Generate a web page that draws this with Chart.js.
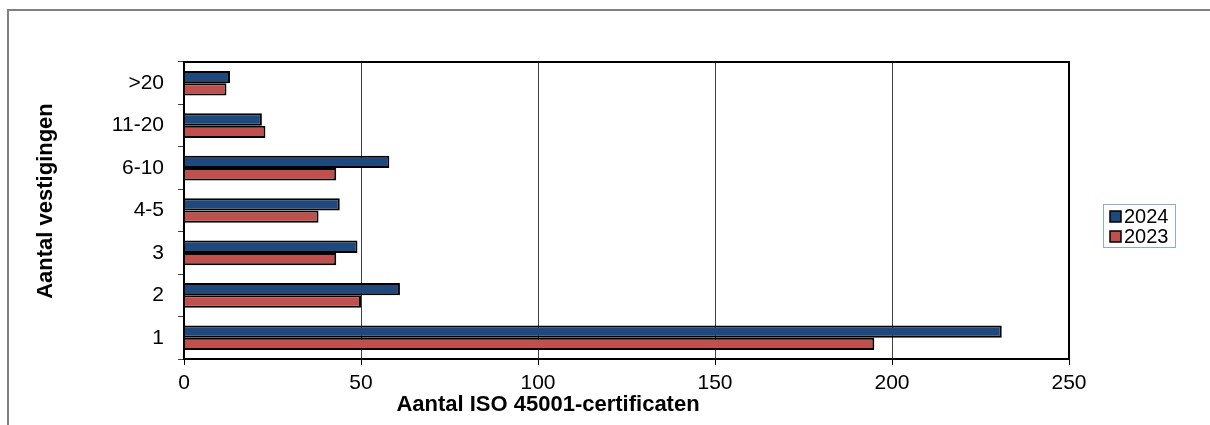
<!DOCTYPE html>
<html>
<head>
<meta charset="utf-8">
<script src="https://cdn.jsdelivr.net/npm/chart.js@4"></script>
<style>
  html, body { margin: 0; padding: 0; background: #fff; overflow: hidden; }
  #wrap { position: relative; width: 1210px; height: 425px; }
</style>
</head>
<body>
<div id="wrap"><canvas id="chart"></canvas></div>
<script>
// data
const categories = ['>20', '11-20', '6-10', '4-5', '3', '2', '1'];
const values2024 = [13, 22, 58, 44, 49, 61, 231];
const values2023 = [12, 23, 43, 38, 43, 50, 195];
const seriesLabels = ['2024', '2023'];
const xMin = 0;
const xMax = 250;
const xStep = 50;

const xTitle = 'Aantal ISO 45001-certificaten';
const yTitle = 'Aantal vestigingen';

const FONT = "'Liberation Sans', Arial, sans-serif";
const BLUE = '#1F497D';
const RED = '#C0504D';

// frame, plot border, axis titles and legend
const decorPlugin = {
  id: 'decor',
  beforeDraw(chart) {
    const {ctx} = chart;
    ctx.save();
    ctx.strokeStyle = '#808080';
    ctx.lineWidth = 2;
    ctx.beginPath();
    ctx.moveTo(8, 425);
    ctx.lineTo(8, 10);
    ctx.lineTo(1210, 10);
    ctx.stroke();
    ctx.restore();
  },
  afterDatasetsDraw(chart) {
    const {ctx, chartArea: {left, top, width, height}} = chart;
    ctx.save();
    ctx.strokeStyle = '#000';
    ctx.lineWidth = 2;
    ctx.strokeRect(left, top, width, height);
    ctx.restore();
  },
  afterDraw(chart) {
    const {ctx} = chart;
    ctx.save();
    ctx.fillStyle = '#000';
    ctx.font = 'bold 22px ' + FONT;
    ctx.textAlign = 'center';
    ctx.textBaseline = 'middle';
    ctx.fillText(xTitle, 548, 405);
    ctx.translate(46, 201);
    ctx.rotate(-Math.PI / 2);
    ctx.fillText(yTitle, 0, 0);
    ctx.restore();

    // legend
    ctx.save();
    ctx.strokeStyle = '#8EA9D8';
    ctx.lineWidth = 1;
    ctx.strokeRect(1103.5, 204.5, 72, 43);
    ctx.font = '20px ' + FONT;
    ctx.textAlign = 'left';
    ctx.textBaseline = 'middle';
    chart.data.datasets.forEach((ds, i) => {
      const y = 211 + i * 20;
      ctx.fillStyle = ds.backgroundColor;
      ctx.fillRect(1110, y, 11, 11);
      ctx.strokeStyle = '#000';
      ctx.lineWidth = 1.5;
      ctx.strokeRect(1110, y, 11, 11);
      ctx.fillStyle = '#000';
      ctx.fillText(ds.label, 1124, y + 6);
    });
    ctx.restore();
  }
};

const ctx = document.getElementById('chart');
new Chart(ctx, {
  type: 'bar',
  data: {
    labels: categories,
    datasets: [
      {
        label: seriesLabels[0],
        data: values2024,
        backgroundColor: BLUE,
        borderColor: '#000',
        borderWidth: 2
      },
      {
        label: seriesLabels[1],
        data: values2023,
        backgroundColor: RED,
        borderColor: '#000',
        borderWidth: 2
      }
    ]
  },
  options: {
    indexAxis: 'y',
    responsive: true,
    maintainAspectRatio: false,
    animation: false,
    categoryPercentage: 0.58,
    barPercentage: 1.0,
    layout: {padding: {left: 0, top: 62, right: 141, bottom: 0}},
    plugins: {
      legend: {display: false},
      tooltip: {enabled: false}
    },
    scales: {
      x: {
        min: xMin,
        max: xMax,
        afterFit(scale) { scale.height = 66; },
        ticks: {
          stepSize: xStep,
          color: '#000',
          padding: 6,
          font: {family: FONT, size: 21}
        },
        grid: {
          color: '#404040',
          lineWidth: 1,
          tickColor: '#000',
          tickLength: 6
        },
        border: {color: '#000', width: 2}
      },
      y: {
        afterFit(scale) { scale.width = 184; },
        ticks: {
          color: '#000',
          padding: 14,
          font: {family: FONT, size: 21}
        },
        grid: {
          drawOnChartArea: false,
          color: '#404040',
          tickColor: '#404040',
          tickLength: 6
        },
        border: {color: '#000', width: 2}
      }
    }
  },
  plugins: [decorPlugin]
});
</script>
</body>
</html>
